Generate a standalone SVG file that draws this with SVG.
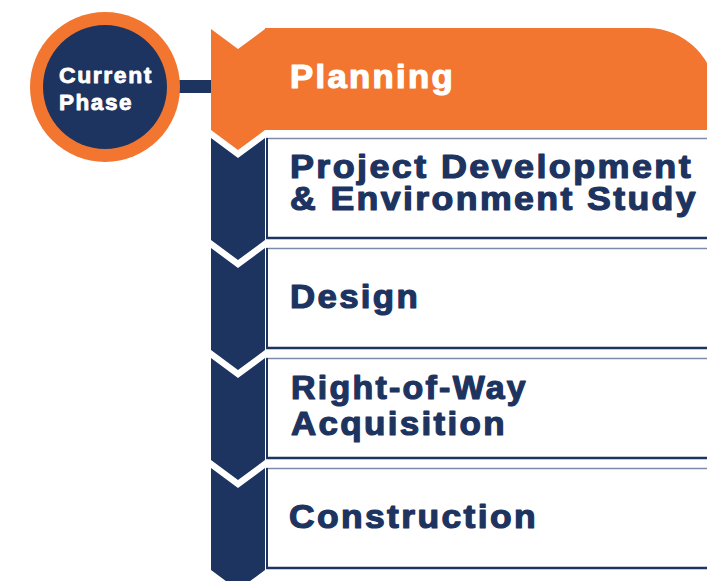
<svg xmlns="http://www.w3.org/2000/svg" width="707" height="581" viewBox="0 0 707 581">
  <style>
    .orange { fill: #F2762F; }
    .navy { fill: #1D3360; }
    .box { fill: #FFFFFF; }
    .top-rule { stroke: #7D8AA8; stroke-width: 1.5; }
    .bottom-rule { stroke: #1D3360; stroke-width: 2.5; }
    .left-rule { stroke: #1D3360; stroke-width: 2; }
    .label { font-family: "Liberation Sans", Arial, sans-serif; font-weight: bold; font-size: 33px; letter-spacing: 2.2px; fill: #1D3360; stroke: #1D3360; stroke-width: 1.2; stroke-linejoin: round; }
    .label-light { fill: #FFFFFF; stroke: #FFFFFF; }
    .badge { font-family: "Liberation Sans", Arial, sans-serif; font-weight: bold; font-size: 22px; letter-spacing: 1.5px; fill: #FFFFFF; stroke: #FFFFFF; stroke-width: 0.8; stroke-linejoin: round; }
  </style>

  <!-- link from the badge to the active phase -->
  <g id="connectors">
    <rect class="navy" x="160" y="80" width="53" height="13"/>
  </g>

  <!-- "Current Phase" badge -->
  <g id="current-phase">
    <circle class="orange" cx="105" cy="87" r="75"/>
    <circle class="navy" cx="105" cy="87" r="62"/>
    <text class="badge" x="59" y="83" textLength="94" lengthAdjust="spacingAndGlyphs">Current</text>
    <text class="badge" x="59" y="110" textLength="74" lengthAdjust="spacingAndGlyphs">Phase</text>
  </g>

  <!-- Phase 1: Planning (active) -->
  <g id="planning">
    <path class="orange" d="M265 28 H647 A69 69 0 0 1 716 97 V130 H265 Z"/>
    <polygon class="orange" points="211,29 238,49 265,29 265,130 238,150 211,130"/>
    <text class="label label-light" x="290" y="88" textLength="165" lengthAdjust="spacingAndGlyphs">Planning</text>
  </g>

  <!-- Phase 2: Project Development & Environment Study -->
  <g id="project-development">
    <polygon class="navy" points="211,138 238,158 265,138 265,240 238,260 211,240"/>
    <rect class="box" x="267" y="138" width="450" height="100"/>
    <line class="top-rule" x1="266" y1="138.5" x2="707" y2="138.5"/>
    <line class="bottom-rule" x1="266" y1="238" x2="707" y2="238"/>
    <line class="left-rule" x1="267" y1="138" x2="267" y2="239"/>
    <text class="label" x="290" y="178" textLength="403" lengthAdjust="spacingAndGlyphs">Project Development</text>
    <text class="label" x="290" y="210" textLength="408" lengthAdjust="spacingAndGlyphs">&amp; Environment Study</text>
  </g>

  <!-- Phase 3: Design -->
  <g id="design">
    <polygon class="navy" points="211,248 238,268 265,248 265,350 238,370 211,350"/>
    <rect class="box" x="267" y="248" width="450" height="100"/>
    <line class="top-rule" x1="266" y1="248.5" x2="707" y2="248.5"/>
    <line class="bottom-rule" x1="266" y1="348" x2="707" y2="348"/>
    <line class="left-rule" x1="267" y1="248" x2="267" y2="349"/>
    <text class="label" x="290" y="308" textLength="130" lengthAdjust="spacingAndGlyphs">Design</text>
  </g>

  <!-- Phase 4: Right-of-Way Acquisition -->
  <g id="right-of-way">
    <polygon class="navy" points="211,358 238,378 265,358 265,460 238,480 211,460"/>
    <rect class="box" x="267" y="358" width="450" height="100"/>
    <line class="top-rule" x1="266" y1="358.5" x2="707" y2="358.5"/>
    <line class="bottom-rule" x1="266" y1="458" x2="707" y2="458"/>
    <line class="left-rule" x1="267" y1="358" x2="267" y2="459"/>
    <text class="label" x="291" y="399" textLength="237" lengthAdjust="spacingAndGlyphs">Right-of-Way</text>
    <text class="label" x="291" y="435" textLength="216" lengthAdjust="spacingAndGlyphs">Acquisition</text>
  </g>

  <!-- Phase 5: Construction -->
  <g id="construction">
    <polygon class="navy" points="211,468 238,488 265,468 265,570 238,590 211,570"/>
    <rect class="box" x="267" y="468" width="450" height="100"/>
    <line class="top-rule" x1="266" y1="468.5" x2="707" y2="468.5"/>
    <line class="bottom-rule" x1="266" y1="568" x2="707" y2="568"/>
    <line class="left-rule" x1="267" y1="468" x2="267" y2="569"/>
    <text class="label" x="289" y="528" textLength="249" lengthAdjust="spacingAndGlyphs">Construction</text>
  </g>
</svg>
